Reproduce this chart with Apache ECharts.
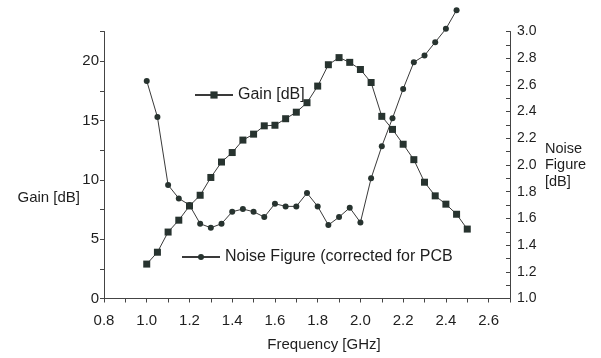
<!DOCTYPE html>
<html>
<head>
<meta charset="utf-8">
<script src="https://cdn.jsdelivr.net/npm/echarts@6/dist/echarts.min.js"></script>
<style>
  html, body { margin: 0; padding: 0; background: #ffffff; }
  #chart { width: 601px; height: 358px; }
</style>
</head>
<body>
<div id="chart"></div>
<script>
// Frequency sweep points [GHz]
const frequency = [1.00, 1.05, 1.10, 1.15, 1.20, 1.25, 1.30, 1.35, 1.40, 1.45,
                   1.50, 1.55, 1.60, 1.65, 1.70, 1.75, 1.80, 1.85, 1.90, 1.95,
                   2.00, 2.05, 2.10, 2.15, 2.20, 2.25, 2.30, 2.35, 2.40, 2.45, 2.50];

// Gain [dB] at each frequency
const gainDb = [2.9, 3.9, 5.6, 6.6, 7.8, 8.7, 10.2, 11.5, 12.3, 13.35,
                13.85, 14.55, 14.6, 15.15, 15.7, 16.5, 17.9, 19.7, 20.3, 19.9,
                19.3, 18.2, 15.35, 14.25, 13.0, 11.7, 9.8, 8.65, 7.95, 7.1, 5.85];

// Noise figure [dB], corrected for PCB (measured up to 2.45 GHz)
const noiseFigureDb = [2.63, 2.36, 1.85, 1.75, 1.70, 1.56, 1.53, 1.56, 1.65, 1.67,
                       1.65, 1.61, 1.71, 1.69, 1.69, 1.79, 1.69, 1.55, 1.61, 1.68,
                       1.57, 1.90, 2.14, 2.35, 2.57, 2.77, 2.82, 2.92, 3.02, 3.16];

const gainName = 'Gain [dB]';
const nfName = 'Noise Figure (corrected for PCB';

const FONT = '"Liberation Sans", Arial, sans-serif';
const INK = '#1e1e1e';
const AXIS = '#444444';
const LINE = '#3a3a3a';
const MARK = '#27332f';

// Label only every second tenth (0.8, 1.0, ...), tick every tenth
const evenTenths = v => (Math.round(v * 10) % 2 === 0 ? v.toFixed(1) : '');

const chart = echarts.init(document.getElementById('chart'), null, { renderer: 'canvas' });

chart.setOption({
  animation: false,
  backgroundColor: '#ffffff',
  textStyle: { fontFamily: FONT, color: INK },
  grid: {
    left: 104, right: 91, top: 31.5, bottom: 59.5,
    containLabel: false,
    outerBoundsMode: 'none'
  },
  // Left axis title sits below the axis middle, level with the 8 dB mark
  graphic: [
    {
      type: 'text',
      x: 80, y: 197.5,
      style: {
        text: 'Gain [dB]',
        font: '15px "Liberation Sans", Arial, sans-serif',
        fill: INK,
        align: 'right',
        verticalAlign: 'middle'
      }
    }
  ],
  legend: [
    {
      data: [gainName],
      left: 194, top: 87, padding: 0,
      itemWidth: 38, itemHeight: 9,
      textStyle: { fontFamily: FONT, fontSize: 16, color: INK, lineHeight: 16 }
    },
    {
      data: [nfName],
      left: 181, top: 249, padding: 0,
      itemWidth: 38, itemHeight: 7.5, itemGap: 0,
      textStyle: { fontFamily: FONT, fontSize: 16, color: INK, lineHeight: 16 }
    }
  ],
  xAxis: {
    type: 'value',
    min: 0.8, max: 2.7, interval: 0.1,
    name: 'Frequency [GHz]',
    nameLocation: 'middle',
    nameGap: 39,
    nameMoveOverlap: false,
    nameTextStyle: { fontFamily: FONT, fontSize: 15, color: INK, padding: [0, 0, 0, 34] },
    axisLine: { show: true, onZero: false, lineStyle: { color: AXIS, width: 1 } },
    axisTick: { show: true, inside: false, length: 4, interval: 0, lineStyle: { color: AXIS } },
    axisLabel: { interval: 0, margin: 15, fontSize: 15, color: INK, fontFamily: FONT, formatter: evenTenths },
    splitLine: { show: false }
  },
  yAxis: [
    {
      type: 'value',
      position: 'left',
      min: 0, max: 22.5, interval: 2.5,
      axisLine: { show: true, onZero: false, lineStyle: { color: AXIS, width: 1 } },
      axisTick: { show: true, inside: false, length: 4, interval: 0, lineStyle: { color: AXIS } },
      axisLabel: {
        interval: 0, margin: 5, fontSize: 15, color: INK, fontFamily: FONT,
        formatter: v => (Math.round(v * 10) % 50 === 0 ? String(v) : '')
      },
      splitLine: { show: false }
    },
    {
      type: 'value',
      position: 'right',
      min: 1.0, max: 3.0, interval: 0.1,
      name: 'Noise\nFigure\n[dB]',
      nameLocation: 'middle',
      nameRotate: 0,
      nameGap: 35,
      nameMoveOverlap: false,
      nameTextStyle: { fontFamily: FONT, fontSize: 14.5, color: INK, align: 'left', verticalAlign: 'middle', lineHeight: 16.5 },
      axisLine: { show: true, onZero: false, lineStyle: { color: AXIS, width: 1 } },
      axisTick: { show: true, inside: true, length: 4, interval: 0, lineStyle: { color: AXIS } },
      axisLabel: { interval: 0, margin: 7, fontSize: 14, color: INK, fontFamily: FONT, formatter: evenTenths },
      splitLine: { show: false }
    }
  ],
  series: [
    {
      name: gainName,
      type: 'line',
      xAxisIndex: 0,
      yAxisIndex: 0,
      data: frequency.map((f, i) => [f, gainDb[i]]),
      symbol: 'rect',
      symbolSize: 7,
      showAllSymbol: true,
      clip: false,
      lineStyle: { color: LINE, width: 1 },
      itemStyle: { color: MARK }
    },
    {
      name: nfName,
      type: 'line',
      xAxisIndex: 0,
      yAxisIndex: 1,
      data: noiseFigureDb.map((v, i) => [frequency[i], v]),
      symbol: 'circle',
      symbolSize: 6,
      showAllSymbol: true,
      clip: false,
      lineStyle: { color: LINE, width: 1 },
      itemStyle: { color: MARK }
    }
  ]
});
</script>
</body>
</html>
